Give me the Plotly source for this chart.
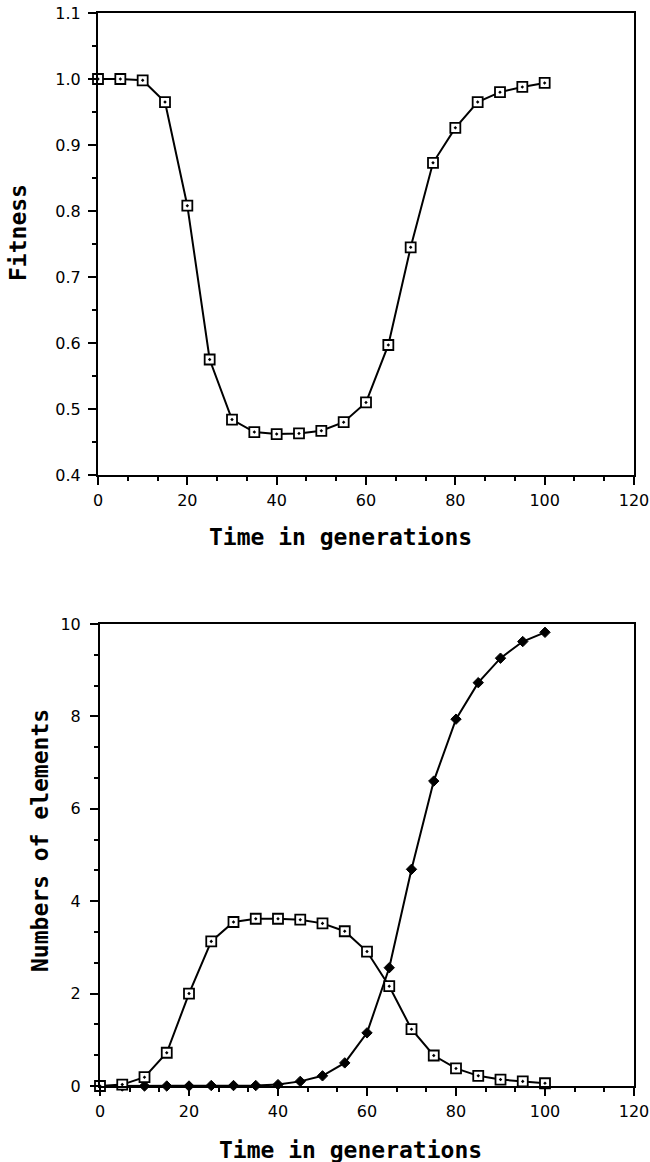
import plotly.graph_objects as go

# ---- data ----
gen = [0, 5, 10, 15, 20, 25, 30, 35, 40, 45, 50, 55, 60, 65, 70, 75, 80, 85, 90, 95, 100]
fitness = [1.0, 1.0, 0.998, 0.965, 0.808, 0.575, 0.484, 0.465, 0.462, 0.463, 0.467,
           0.480, 0.510, 0.597, 0.745, 0.873, 0.926, 0.965, 0.980, 0.988, 0.994]
elements_a = [0.0, 0.03, 0.19, 0.72, 2.0, 3.13, 3.55, 3.62, 3.62, 3.60, 3.52,
              3.35, 2.91, 2.16, 1.23, 0.66, 0.38, 0.22, 0.14, 0.10, 0.06]
elements_b = [0.0, 0.0, 0.0, 0.0, 0.0, 0.01, 0.01, 0.01, 0.03, 0.10, 0.22,
              0.50, 1.15, 2.56, 4.69, 6.60, 7.94, 8.73, 9.26, 9.62, 9.82]

x_title = "Time in generations"
y_title_top = "Fitness"
y_title_bottom = "Numbers of elements"

W, H = 650, 1162
title_font = dict(family="DejaVu Sans Mono", size=23, color="black")
tick_font = dict(family="DejaVu Sans", size=16, color="black")

sq_marker = dict(symbol="square-dot", size=10, color="white",
                 line=dict(color="black", width=1.8))
dia_marker = dict(symbol="diamond", size=8, color="black",
                  line=dict(color="black", width=1))

fig = go.Figure()
fig.add_trace(go.Scatter(x=gen, y=fitness, mode="lines+markers", xaxis="x", yaxis="y",
                         line=dict(color="black", width=2), marker=sq_marker,
                         cliponaxis=False, showlegend=False))
fig.add_trace(go.Scatter(x=gen, y=elements_b, mode="lines+markers", xaxis="x2", yaxis="y2",
                         line=dict(color="black", width=2), marker=dia_marker,
                         cliponaxis=False, showlegend=False))
fig.add_trace(go.Scatter(x=gen, y=elements_a, mode="lines+markers", xaxis="x2", yaxis="y2",
                         line=dict(color="black", width=2), marker=sq_marker,
                         cliponaxis=False, showlegend=False))

axis_common = dict(showline=True, linecolor="black", linewidth=2, mirror=True,
                   ticks="outside", ticklen=8, tickwidth=1.5, tickcolor="black",
                   showgrid=False, zeroline=False, tickfont=tick_font, automargin=False)

fig.update_layout(
    width=W, height=H,
    margin=dict(l=0, r=0, t=0, b=0),
    paper_bgcolor="white", plot_bgcolor="white",
    xaxis=dict(domain=[98 / W, 634 / W], anchor="y", range=[0, 120], dtick=20, tick0=0,
               minor=dict(dtick=20 / 3, ticklen=4, ticks="outside", tickcolor="black", tickwidth=1.5),
               ticklabelstandoff=2, **axis_common),
    yaxis=dict(domain=[1 - 475 / H, 1 - 13 / H], anchor="x", range=[0.4, 1.1], dtick=0.1, tick0=0.4,
               tickformat=".1f", ticklabelstandoff=4,
               minor=dict(dtick=0.05, ticklen=4, ticks="outside", tickcolor="black", tickwidth=1.5),
               **axis_common),
    xaxis2=dict(domain=[100 / W, 634 / W], anchor="y2", range=[0, 120], dtick=20, tick0=0,
                minor=dict(dtick=20 / 3, ticklen=4, ticks="outside", tickcolor="black", tickwidth=1.5),
                ticklabelstandoff=2, **axis_common),
    yaxis2=dict(domain=[1 - 1086 / H, 1 - 624 / H], anchor="x2", range=[0, 10], dtick=2, tick0=0,
                ticklabelstandoff=6,
                minor=dict(dtick=2 / 3, ticklen=4, ticks="outside", tickcolor="black", tickwidth=1.5),
                **axis_common),
)

def ann(text, px, py, angle=0):
    fig.add_annotation(text="<b>" + text + "</b>", x=px / W, y=1 - py / H,
                       xref="paper", yref="paper", showarrow=False,
                       xanchor="center", yanchor="middle", textangle=angle, font=title_font)

ann(x_title, 340, 537)
ann(x_title, 350, 1150)
ann(y_title_top, 18, 233, -90)
ann(y_title_bottom, 40, 841, -90)

fig.write_html("out.html", config={"displayModeBar": False},
               post_script="document.body.style.margin='0px';")
